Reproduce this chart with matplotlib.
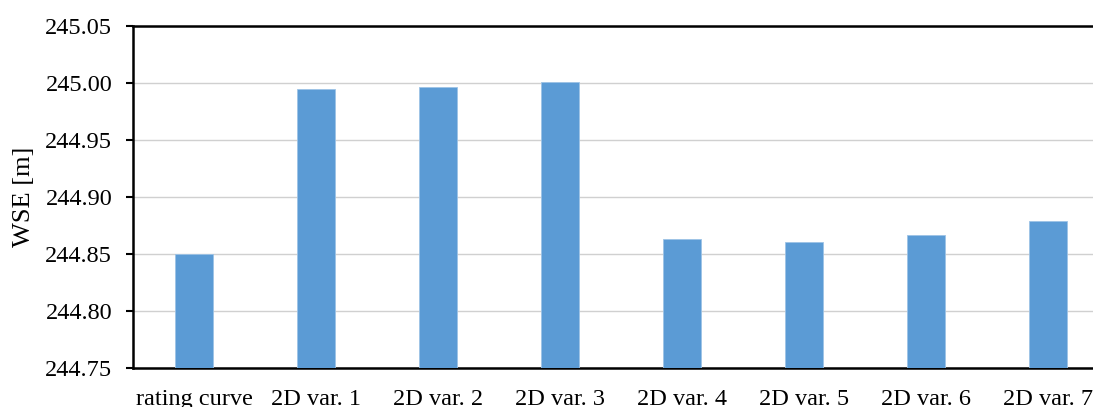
import matplotlib
matplotlib.use("Agg")
import matplotlib.pyplot as plt

categories = ["rating curve", "2D var. 1", "2D var. 2", "2D var. 3",
              "2D var. 4", "2D var. 5", "2D var. 6", "2D var. 7"]
wse = [244.850, 244.995, 244.997, 245.001, 244.863, 244.861, 244.867, 244.879]
yticks = [244.75, 244.80, 244.85, 244.90, 244.95, 245.00, 245.05]

plt.rcParams['font.family'] = ['Liberation Serif', 'DejaVu Serif']

fig = plt.figure(figsize=(10.93, 4.07), dpi=100)
ax = fig.add_axes([0.1217, 0.0958, 0.893, 0.840])

x = list(range(len(categories)))
ax.bar(x, wse, width=0.31, color="#5B9BD5", zorder=3,
       bottom=0, edgecolor="#9DC3E6", linewidth=0.6)

ax.set_xlim(-0.5, len(categories) - 0.5)
ax.set_ylim(244.75, 245.05)
ax.set_yticks(yticks)
ax.set_yticklabels([f"{v:.2f}" for v in yticks])
ax.set_xticks(x)
ax.set_xticklabels(categories)

ax.yaxis.grid(True, color="#D0D0D0", linewidth=1.0, zorder=0)
ax.set_axisbelow(True)

for side in ["left", "top", "bottom"]:
    ax.spines[side].set_color("black")
    ax.spines[side].set_linewidth(1.8)
ax.spines["right"].set_visible(False)

ax.tick_params(axis="y", length=5, width=1.5, pad=10, labelsize=17.5)
ax.tick_params(axis="x", length=0, pad=15, labelsize=17.5)

ax.set_ylabel("WSE [m]", fontsize=19, labelpad=7)

fig.savefig("out.png", dpi=100)
